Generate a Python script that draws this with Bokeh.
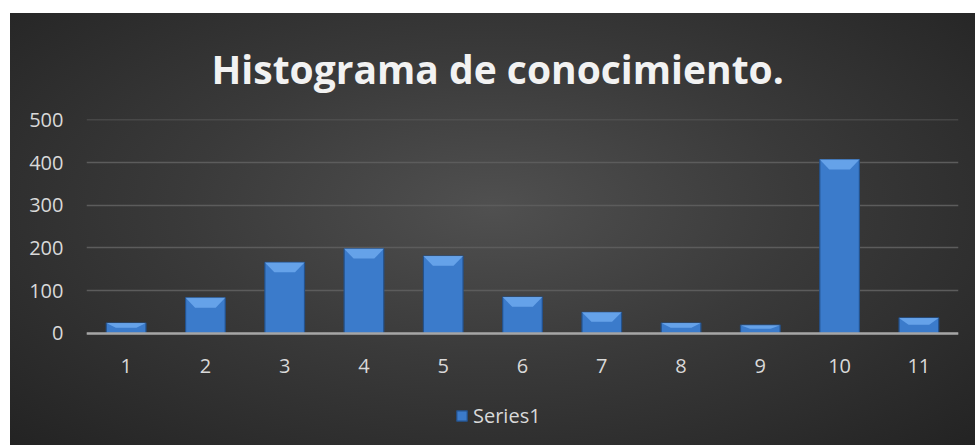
from bokeh.plotting import figure
from bokeh.models import Legend, LegendItem, ColumnDataSource, FactorRange
from bokeh.embed import file_html
from bokeh.resources import INLINE

categories = ["1", "2", "3", "4", "5", "6", "7", "8", "9", "10", "11"]
values = [24, 83, 166, 198, 181, 85, 49, 24, 19, 407, 36]
y_ticks = [0, 100, 200, 300, 400, 500]
series_name = "Series1"
title_text = "Histograma de conocimiento."

BAR_W = 0.5
FONT = "Open Sans"
LABEL_COLOR = "#d9d9d9"

p = figure(x_range=FactorRange(*categories), y_range=(-263, 501),
           width=965, height=432, output_backend="svg", toolbar_location=None,
           min_border_left=76, min_border_right=17, min_border_top=106, min_border_bottom=0)
p.styles = {"background": "radial-gradient(ellipse at 50% 45%, #505050 0%, #3a3a3a 45%, #232323 100%)",
            "margin-left": "10px", "margin-top": "13px"}
p.border_fill_color = None
p.background_fill_color = None
p.outline_line_color = None

p.title.text = title_text
p.title.align = "left"
p.title.offset = 125
p.title.text_font = FONT
p.title.text_font_style = "bold"
p.title.text_font_size = "39px"
p.title.text_color = "#f2f2f2"
p.title.standoff = 50

src = ColumnDataSource(dict(x=categories, top=values))
bars = p.vbar(x="x", top="top", width=BAR_W, source=src,
              fill_color="#3b7bcb", line_color="#24528c", line_width=1.2)

# bevel highlight on top of each bar (derived from the data values)
xs, ys = [], []
for c, v in zip(categories, values):
    h = min(23.0, v * 0.45)
    xs.append([(c, -BAR_W / 2), (c, BAR_W / 2), (c, BAR_W / 2 - 0.12), (c, -BAR_W / 2 + 0.12)])
    ys.append([v, v, v - h, v - h])
p.patches(xs=xs, ys=ys, fill_color="#6aa6ec", line_color=None, fill_alpha=0.9)

p.xgrid.grid_line_color = None
p.ygrid.grid_line_color = "#5c5c5c"
p.ygrid.grid_line_width = 1.5
p.yaxis.ticker = y_ticks

for ax in (p.xaxis, p.yaxis):
    ax.major_tick_line_color = None
    ax.minor_tick_line_color = None
    ax.major_label_text_font = FONT
    ax.major_label_text_font_size = "20px"
    ax.major_label_text_color = LABEL_COLOR
p.yaxis.axis_line_color = None
p.yaxis.major_label_standoff = 17
p.xaxis.fixed_location = 0
p.xaxis.axis_line_color = "#a6a6a6"
p.xaxis.axis_line_width = 2.5
p.xaxis.major_label_standoff = 20

legend = Legend(items=[LegendItem(label=series_name, renderers=[bars])],
                orientation="horizontal", location=(369, 16),
                background_fill_alpha=0, border_line_color=None,
                label_text_color=LABEL_COLOR, label_text_font=FONT,
                label_text_font_size="20px", glyph_width=13, glyph_height=13,
                margin=0, padding=4)
p.add_layout(legend)

open("out.html", "w").write(file_html(p, INLINE))
